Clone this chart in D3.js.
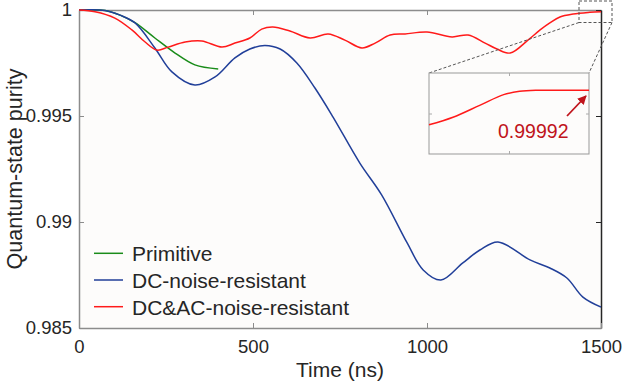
<!DOCTYPE html>
<html>
<head>
<meta charset="utf-8">
<title>Quantum-state purity</title>
<script src="https://d3js.org/d3.v7.min.js"></script>
<style>
  body { margin: 0; background: #fff; }
  text { font-family: Arial, "Liberation Sans", sans-serif; fill: #262626; }
</style>
</head>
<body>
<script>
// series data (time in ns, purity)
var tPrimitive = [0, 75, 118, 161, 218, 276, 333, 400];
var pPrimitive = [1.0, 0.99998, 0.99976, 0.99940, 0.99868, 0.99797, 0.99741, 0.99722];

var tDC = [0, 75, 118, 161, 218, 267, 333, 391, 448, 491, 534, 578, 626, 678, 730, 807, 870, 943, 989, 1040, 1103, 1152, 1204, 1296, 1353, 1402, 1448, 1500];
var pDC = [1.0, 0.99998, 0.99976, 0.99939, 0.99821, 0.99708, 0.99646, 0.99684, 0.99774, 0.99816, 0.99833, 0.99816, 0.99750, 0.99632, 0.99495, 0.99278, 0.99127, 0.98901, 0.98774, 0.98726, 0.98807, 0.98868, 0.98906, 0.98821, 0.98783, 0.98736, 0.98646, 0.98599];

var tDCAC = [0, 46, 103, 152, 190, 224, 256, 305, 353, 411, 448, 491, 525, 557, 606, 664, 716, 764, 813, 851, 894, 937, 1000, 1072, 1118, 1167, 1201, 1239, 1290, 1325, 1353, 1382, 1420, 1468, 1500];
var pDCAC = [1.0, 0.99992, 0.99962, 0.99906, 0.99849, 0.99811, 0.99825, 0.99849, 0.99854, 0.99825, 0.99844, 0.99868, 0.99910, 0.99920, 0.99901, 0.99868, 0.99887, 0.99858, 0.99821, 0.99844, 0.99882, 0.99887, 0.99896, 0.99873, 0.99882, 0.99844, 0.99816, 0.99797, 0.99858, 0.99906, 0.99939, 0.99967, 0.99981, 0.99989, 0.99992];

// zoomed inset (end of DC&AC curve)
var tInset = [1440, 1449, 1459, 1468, 1474, 1480, 1489, 1500];
var pInset = [0.999887, 0.999894, 0.999905, 0.999915, 0.999918, 0.999919, 0.999919, 0.999919];

var seriesNames = ["Primitive", "DC-noise-resistant", "DC&AC-noise-resistant"];
var seriesColors = ["#1a8c1a", "#213f99", "#ff1a1a"];

var xTicks = [0, 500, 1000, 1500];
var yTicks = [0.985, 0.99, 0.995, 1];
var annotation = "0.99992";

var w = 623, h = 386;
var m = {left: 79, right: 601, top: 10, bottom: 328};

var svg = d3.select("body").append("svg")
  .attr("width", w).attr("height", h);

svg.append("rect").attr("width", w).attr("height", h).attr("fill", "#fff");

var x = d3.scaleLinear().domain([0, 1500]).range([m.left, m.right]);
var y = d3.scaleLinear().domain([0.985, 1]).range([m.bottom, m.top]);

svg.append("rect")
  .attr("x", m.left).attr("y", m.top)
  .attr("width", m.right - m.left).attr("height", m.bottom - m.top)
  .attr("fill", "#fdfcfb");

svg.append("clipPath").attr("id", "clip")
  .append("rect")
  .attr("x", m.left).attr("y", m.top - 2)
  .attr("width", m.right - m.left).attr("height", m.bottom - m.top + 2);

function toPts(ts, ps) {
  return ts.map(function(t, i) { return [t, ps[i]]; });
}
var series = [
  toPts(tPrimitive, pPrimitive),
  toPts(tDC, pDC),
  toPts(tDCAC, pDCAC)
];

var line = d3.line()
  .x(function(d) { return x(d[0]); })
  .y(function(d) { return y(d[1]); })
  .curve(d3.curveCatmullRom.alpha(0.5));

// axes (MATLAB-style box with inward ticks)
var fmt = d3.format("~f");
var axisCol = "#8c8c8c";

function styleAxis(g, col) {
  g.select(".domain").attr("stroke", col).attr("stroke-width", 1.5);
  g.selectAll(".tick line").attr("stroke", col).attr("stroke-width", 1);
  g.selectAll(".tick text").attr("fill", "#262626").attr("font-size", 18.5)
    .attr("font-family", "Arial, 'Liberation Sans', sans-serif");
}

svg.append("g").attr("transform", "translate(0," + m.top + ")")
  .call(d3.axisTop(x).tickValues(xTicks).tickSizeInner(-5).tickSizeOuter(0).tickFormat(""))
  .call(styleAxis, axisCol);
svg.append("g").attr("transform", "translate(" + m.right + ",0)")
  .call(d3.axisRight(y).tickValues(yTicks).tickSizeInner(-5).tickSizeOuter(0).tickFormat(""))
  .call(styleAxis, "#262626");
svg.append("g").attr("transform", "translate(0," + m.bottom + ")")
  .call(d3.axisBottom(x).tickValues(xTicks).tickSizeInner(-5).tickSizeOuter(0).tickPadding(12).tickFormat(fmt))
  .call(styleAxis, axisCol);
svg.append("g").attr("transform", "translate(" + m.left + ",0)")
  .call(d3.axisLeft(y).tickValues(yTicks).tickSizeInner(-5).tickSizeOuter(0).tickPadding(7).tickFormat(fmt))
  .call(styleAxis, axisCol);

// curves
svg.append("g").attr("clip-path", "url(#clip)")
  .selectAll("path.series")
  .data(series)
  .enter().append("path")
  .attr("class", "series")
  .attr("d", line)
  .attr("fill", "none")
  .attr("stroke", function(d, i) { return seriesColors[i]; })
  .attr("stroke-width", 1.5);

// axis labels
svg.append("text")
  .attr("x", (m.left + m.right) / 2).attr("y", 377)
  .attr("text-anchor", "middle").attr("font-size", 21)
  .text("Time (ns)");
svg.append("text")
  .attr("transform", "translate(22," + (m.top + m.bottom) / 2 + ") rotate(-90)")
  .attr("text-anchor", "middle").attr("font-size", 21.5)
  .text("Quantum-state purity");

// legend
var leg = svg.append("g");
seriesNames.forEach(function(name, i) {
  var ly = 253.3 + i * 26.7;
  leg.append("line")
    .attr("x1", 94).attr("x2", 123).attr("y1", ly).attr("y2", ly)
    .attr("stroke", seriesColors[i]).attr("stroke-width", 1.5);
  leg.append("text")
    .attr("x", 132).attr("y", ly + 7.8)
    .attr("font-size", 21)
    .text(name);
});

// zoom box and connectors
var zb = {x0: 579, x1: 612, y0: 1, y1: 22.5};
var ins = {x0: 429, x1: 589, y0: 73, y1: 154};
var dash = svg.append("g").attr("stroke", "#555").attr("stroke-width", 1)
  .attr("stroke-dasharray", "3,2").attr("fill", "none");
dash.append("rect").attr("x", zb.x0).attr("y", zb.y0)
  .attr("width", zb.x1 - zb.x0).attr("height", zb.y1 - zb.y0);
dash.append("line").attr("x1", zb.x0).attr("y1", zb.y1).attr("x2", ins.x0).attr("y2", ins.y0);
dash.append("line").attr("x1", zb.x1).attr("y1", zb.y1).attr("x2", ins.x1).attr("y2", ins.y0);

// inset
var xi = d3.scaleLinear().domain([1440, 1500]).range([ins.x0, ins.x1]);
var yi = d3.scaleLinear().domain([0.99986, 0.999935]).range([ins.y1, ins.y0]);

svg.append("rect")
  .attr("x", ins.x0).attr("y", ins.y0)
  .attr("width", ins.x1 - ins.x0).attr("height", ins.y1 - ins.y0)
  .attr("fill", "#fdfcfb").attr("stroke", "#999").attr("stroke-width", 1);

var xMid = [d3.mean(xi.domain())], yMid = [d3.mean(yi.domain())];
var insAxes = [
  [d3.axisTop(xi).tickValues(xMid), "translate(0," + ins.y0 + ")"],
  [d3.axisBottom(xi).tickValues(xMid), "translate(0," + ins.y1 + ")"],
  [d3.axisLeft(yi).tickValues(yMid), "translate(" + ins.x0 + ",0)"],
  [d3.axisRight(yi).tickValues(yMid), "translate(" + ins.x1 + ",0)"]
];
insAxes.forEach(function(a) {
  var g = svg.append("g").attr("transform", a[1])
    .call(a[0].tickSizeInner(-3).tickSizeOuter(0).tickFormat(""));
  g.select(".domain").remove();
  g.selectAll(".tick line").attr("stroke", "#aaa");
});

var lineInset = d3.line()
  .x(function(d) { return xi(d[0]); })
  .y(function(d) { return yi(d[1]); })
  .curve(d3.curveCatmullRom.alpha(0.5));
svg.append("path")
  .datum(toPts(tInset, pInset))
  .attr("d", lineInset)
  .attr("fill", "none")
  .attr("stroke", seriesColors[2])
  .attr("stroke-width", 1.5);

// annotation
svg.append("defs").append("marker")
  .attr("id", "arrow").attr("viewBox", "0 0 10 10")
  .attr("refX", 9).attr("refY", 5)
  .attr("markerWidth", 5).attr("markerHeight", 5)
  .attr("orient", "auto")
  .append("path").attr("d", "M0,0 L10,5 L0,10 z").attr("fill", "#c0141c");
svg.append("line")
  .attr("x1", 567).attr("y1", 116).attr("x2", 586).attr("y2", 96)
  .attr("stroke", "#c0141c").attr("stroke-width", 1.8)
  .attr("marker-end", "url(#arrow)");
svg.append("text")
  .attr("x", 498).attr("y", 137.5)
  .attr("font-size", 19.5)
  .style("fill", "#c0141c")
  .text(annotation);
</script>
</body>
</html>
